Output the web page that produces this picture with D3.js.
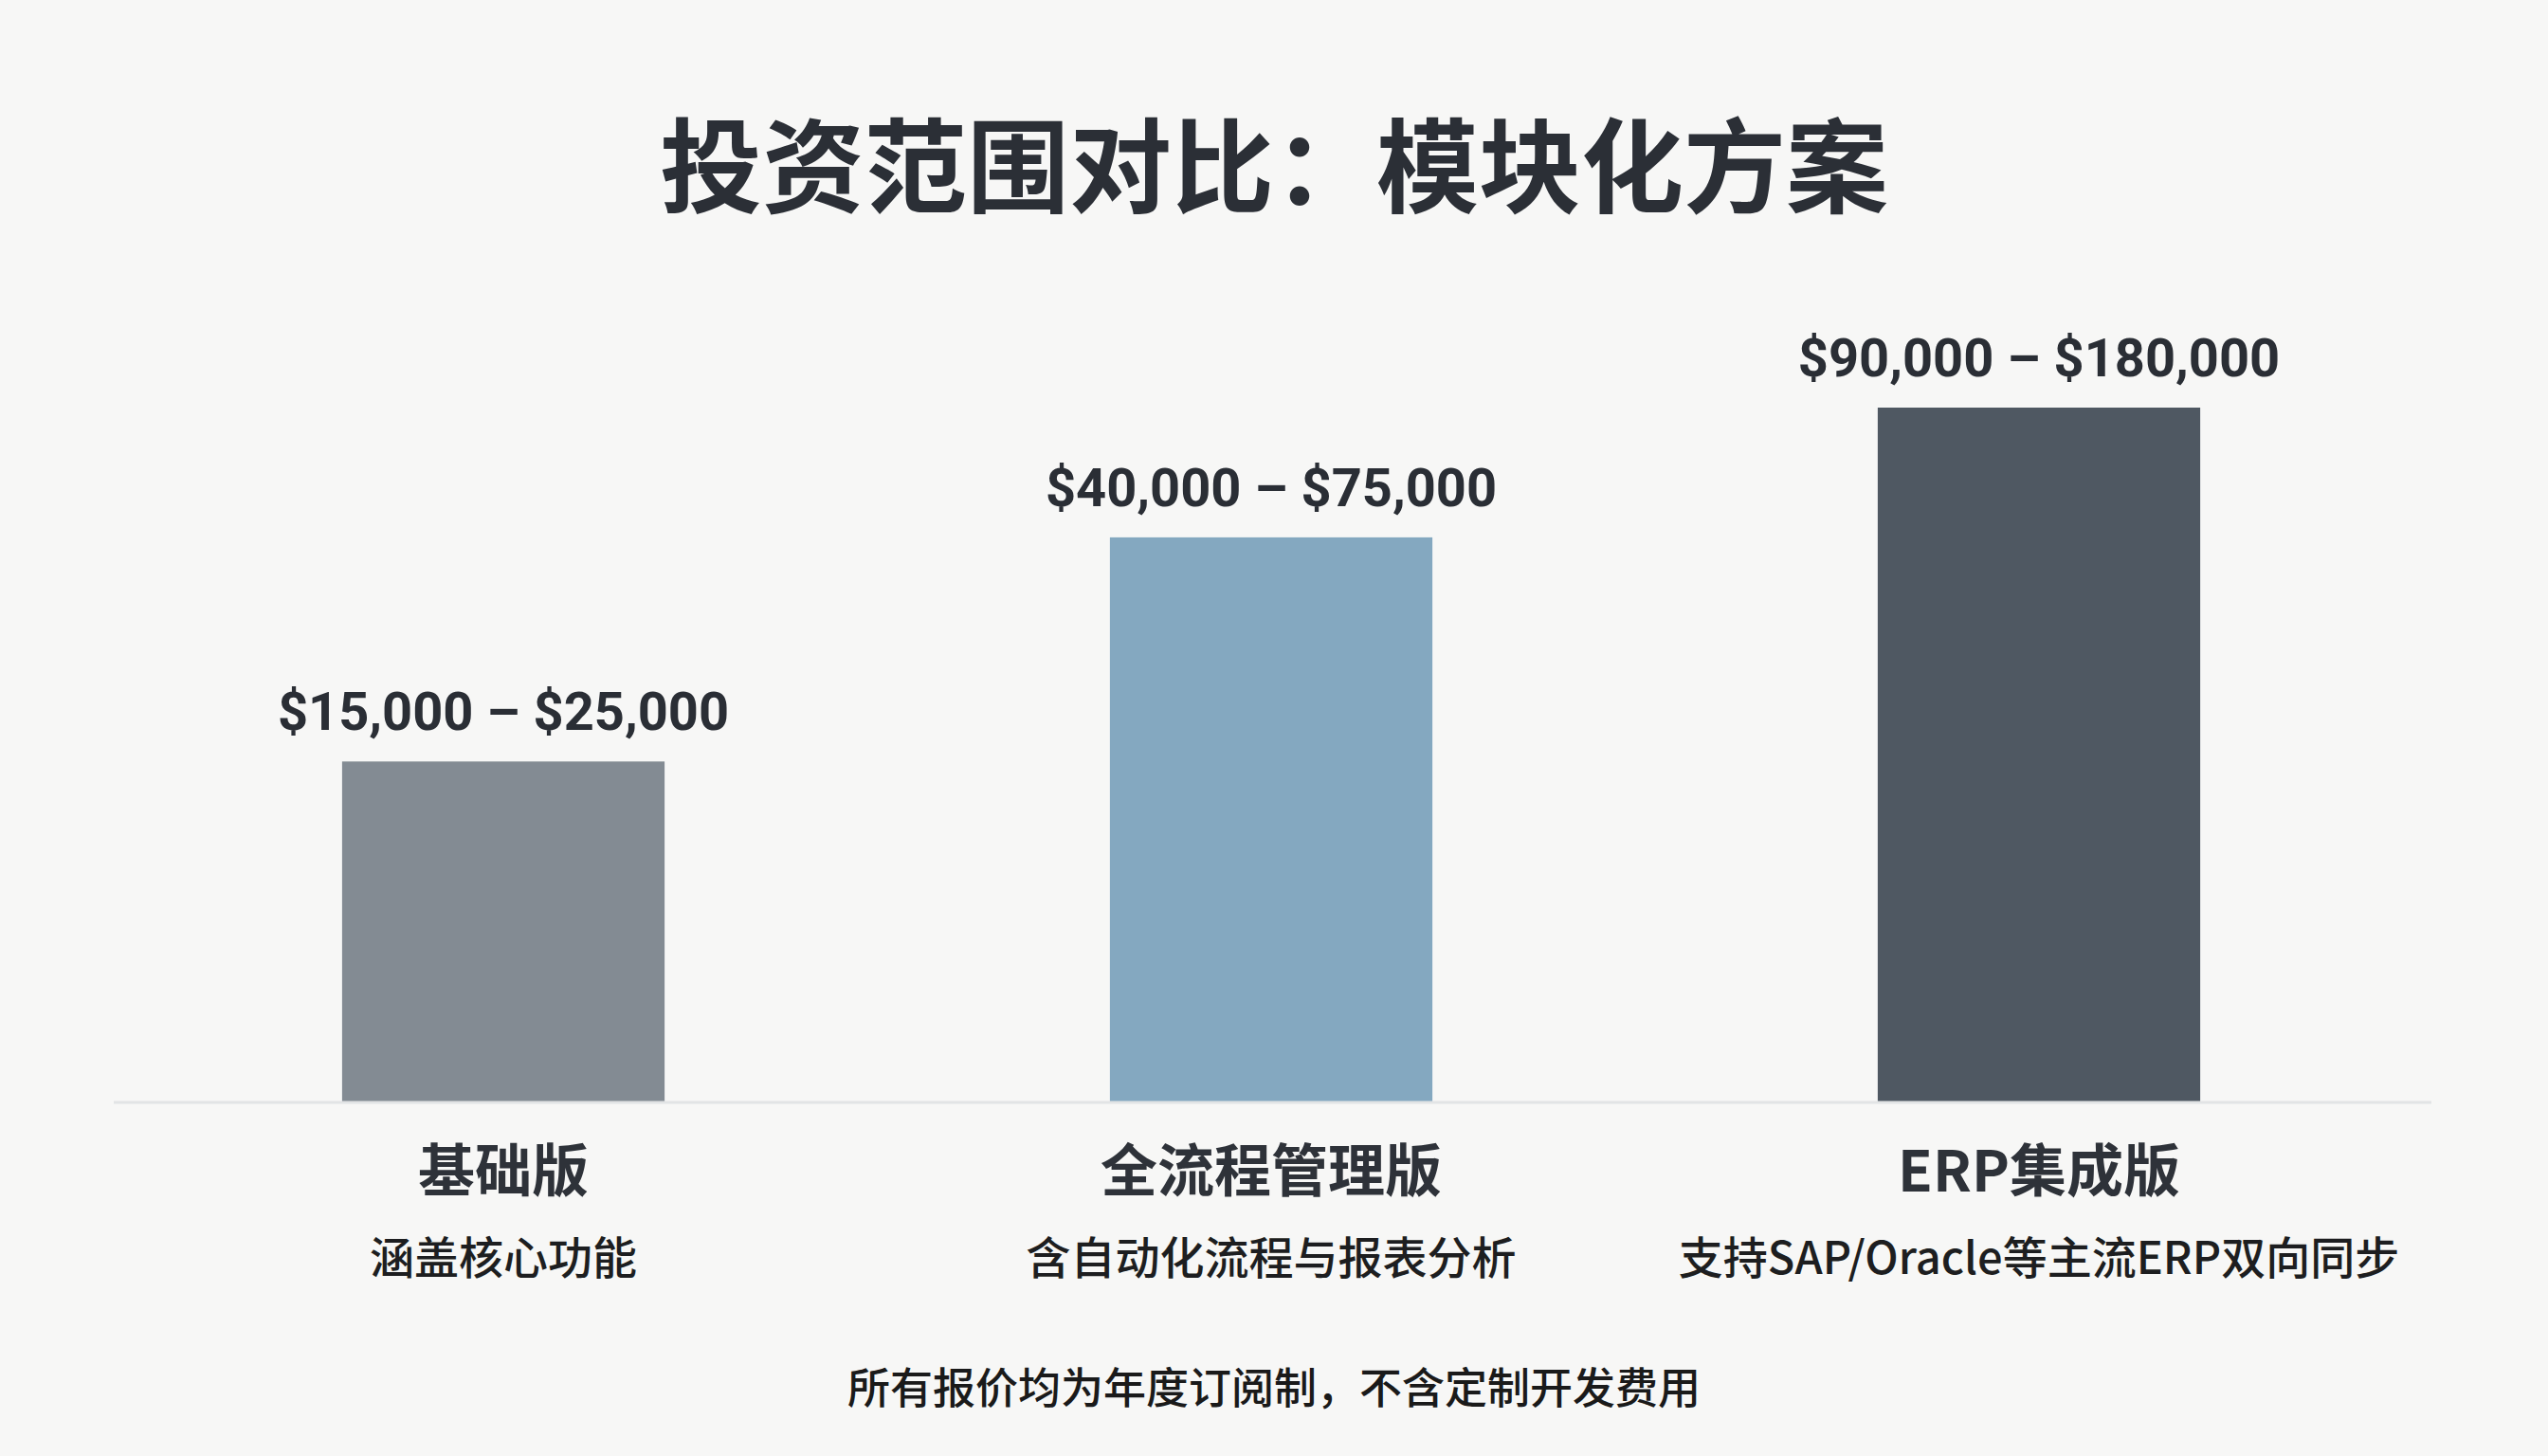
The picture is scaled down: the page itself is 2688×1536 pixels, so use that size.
<!DOCTYPE html>
<html><head><meta charset="utf-8">
<script src="https://cdn.jsdelivr.net/npm/d3@7"></script>
<style>
html,body{margin:0;padding:0;background:#f7f7f6;}
svg{display:block;}
</style></head>
<body>
<svg id="chart" width="2688" height="1536"></svg>
<script>
const titleText = "投资范围对比：模块化方案";
const categories = ["基础版", "全流程管理版", "ERP集成版"];
const descriptions = ["涵盖核心功能", "含自动化流程与报表分析", "支持SAP/Oracle等主流ERP双向同步"];
const rangeLabels = ["$15,000 – $25,000", "$40,000 – $75,000", "$90,000 – $180,000"];
// relative bar height index (tallest = 100)
const heightIndex = [49, 81.3, 100];
const barColors = ["#838b93", "#84a8c0", "#4f5862"];
const footnote = "所有报价均为年度订阅制，不含定制开发费用";

const W = 2688, H = 1536;
const baseY = 1162, topY = 430;
const svg = d3.select("#chart");
svg.append("rect").attr("width", W).attr("height", H).attr("fill", "#f7f7f6");

const x = d3.scaleBand().domain(categories).range([126, 2556]).paddingInner(0.58).paddingOuter(0.29);
const y = d3.scaleLinear().domain([0, 100]).range([baseY, topY]);

const cjk = "'Noto Sans CJK SC','Noto Sans',sans-serif";
const latin = "Roboto,'Noto Sans CJK SC',sans-serif";

svg.append("text").attr("x", W / 2).attr("y", 216).attr("text-anchor", "middle")
  .attr("font-family", cjk).attr("font-weight", 700).attr("font-size", 108)
  .attr("fill", "#2b2f36").text(titleText);

const data = categories.map((c, i) => ({c, v: heightIndex[i], label: rangeLabels[i], desc: descriptions[i], color: barColors[i]}));

svg.selectAll("rect.bar").data(data).join("rect").attr("class", "bar")
  .attr("x", d => x(d.c)).attr("width", x.bandwidth())
  .attr("y", d => y(d.v)).attr("height", d => baseY - y(d.v))
  .attr("fill", d => d.color);

svg.append("line").attr("x1", 120).attr("x2", 2565).attr("y1", baseY + 1).attr("y2", baseY + 1)
  .attr("stroke", "#e2e4e5").attr("stroke-width", 3);

svg.selectAll("text.val").data(data).join("text").attr("class", "val")
  .attr("x", d => x(d.c) + x.bandwidth() / 2).attr("y", d => y(d.v) - 33)
  .attr("text-anchor", "middle").attr("font-family", latin).attr("font-weight", 700)
  .attr("font-size", 56).attr("fill", "#2a2e35").text(d => d.label);

svg.selectAll("text.cat").data(data).join("text").attr("class", "cat")
  .attr("x", d => x(d.c) + x.bandwidth() / 2).attr("y", 1257)
  .attr("text-anchor", "middle").attr("font-family", cjk).attr("font-weight", 700)
  .attr("font-size", 60).attr("fill", "#2e3239").text(d => d.c);

svg.selectAll("text.desc").data(data).join("text").attr("class", "desc")
  .attr("x", d => x(d.c) + x.bandwidth() / 2).attr("y", 1344)
  .attr("text-anchor", "middle").attr("font-family", cjk).attr("font-weight", 500)
  .attr("font-size", 47).attr("fill", "#1d1e20").text(d => d.desc);

svg.append("text").attr("x", W / 2).attr("y", 1481).attr("text-anchor", "middle")
  .attr("font-family", cjk).attr("font-weight", 500).attr("font-size", 45)
  .attr("fill", "#1a1a1a").text(footnote);
</script>
</body></html>
